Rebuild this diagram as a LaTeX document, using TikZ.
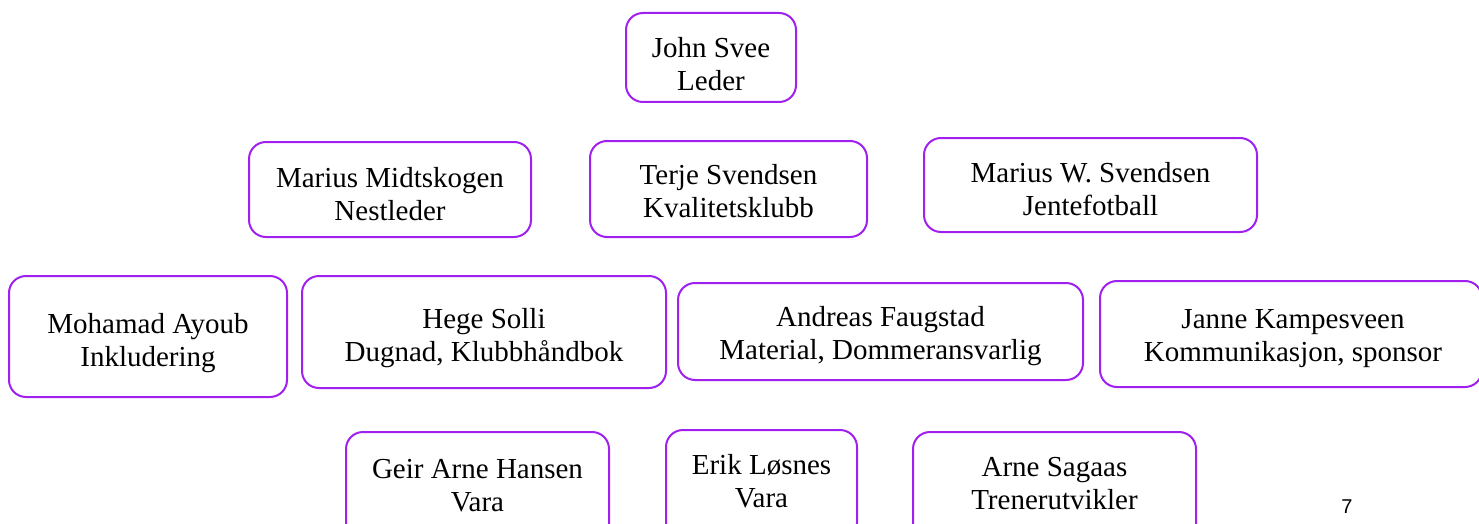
\documentclass[tikz,border=0pt]{standalone}
\usepackage{fontspec}
\setmainfont{Liberation Serif}
\newfontfamily\arialfont{Liberation Sans}
\definecolor{boxpurple}{RGB}{160,32,240}
\begin{document}
\begin{tikzpicture}[x=1pt,y=-1pt,
  orgbox/.style={draw=boxpurple, line width=2pt, rounded corners=17pt, fill=none, inner sep=0pt, outer sep=0pt},
  orgtext/.style={align=center, anchor=base, inner sep=0pt, font=\fontsize{29}{33}\selectfont}]
\useasboundingbox (0,0) rectangle (1479,524);
\clip (0,0) rectangle (1479,524);

\node[orgbox, minimum width=170pt, minimum height=89pt] (b1) at (711,57.5) {};
\node[orgtext] (t1) at (711,91) {John Svee\\Leder};

\node[orgbox, minimum width=282pt, minimum height=95pt] (b2) at (390,189.5) {};
\node[orgtext] (t2) at (390,220) {Marius Midtskogen\\Nestleder};

\node[orgbox, minimum width=277pt, minimum height=96pt] (b3) at (728.5,189) {};
\node[orgtext] (t3) at (728.5,217) {Terje Svendsen\\Kvalitetsklubb};

\node[orgbox, minimum width=333pt, minimum height=94pt] (b4) at (1090.5,185) {};
\node[orgtext] (t4) at (1090.5,215) {Marius W. Svendsen\\Jentefotball};

\node[orgbox, minimum width=278pt, minimum height=121pt] (b5) at (148,336.5) {};
\node[orgtext] (t5) at (148,366) {Mohamad Ayoub\\Inkludering};

\node[orgbox, minimum width=364pt, minimum height=112pt] (b6) at (484,332) {};
\node[orgtext] (t6) at (484,361) {Hege Solli\\Dugnad, Klubbhåndbok};

\node[orgbox, minimum width=405pt, minimum height=97pt] (b7) at (880.5,331.5) {};
\node[orgtext] (t7) at (880.5,359) {Andreas Faugstad\\Material, Dommeransvarlig};

\node[orgbox, minimum width=382pt, minimum height=106pt] (b8) at (1291,334) {};
\node[orgtext] (t8) at (1293,361) {Janne Kampesveen\\Kommunikasjon, sponsor};

\node[orgbox, minimum width=263pt, minimum height=110pt] (b9) at (477.5,487) {};
\node[orgtext] (t9) at (477.5,511) {Geir Arne Hansen\\Vara};

\node[orgbox, minimum width=191pt, minimum height=110pt] (b10) at (761.5,485) {};
\node[orgtext] (t10) at (761.5,507) {Erik Løsnes\\Vara};

\node[orgbox, minimum width=283pt, minimum height=110pt] (b11) at (1054.5,487) {};
\node[orgtext] (t11) at (1054.5,509) {Arne Sagaas\\Trenerutvikler};

\node[inner sep=0pt, font=\arialfont\fontsize{20}{22}\selectfont] (pg) at (1347,507) {7};
\end{tikzpicture}
\end{document}
